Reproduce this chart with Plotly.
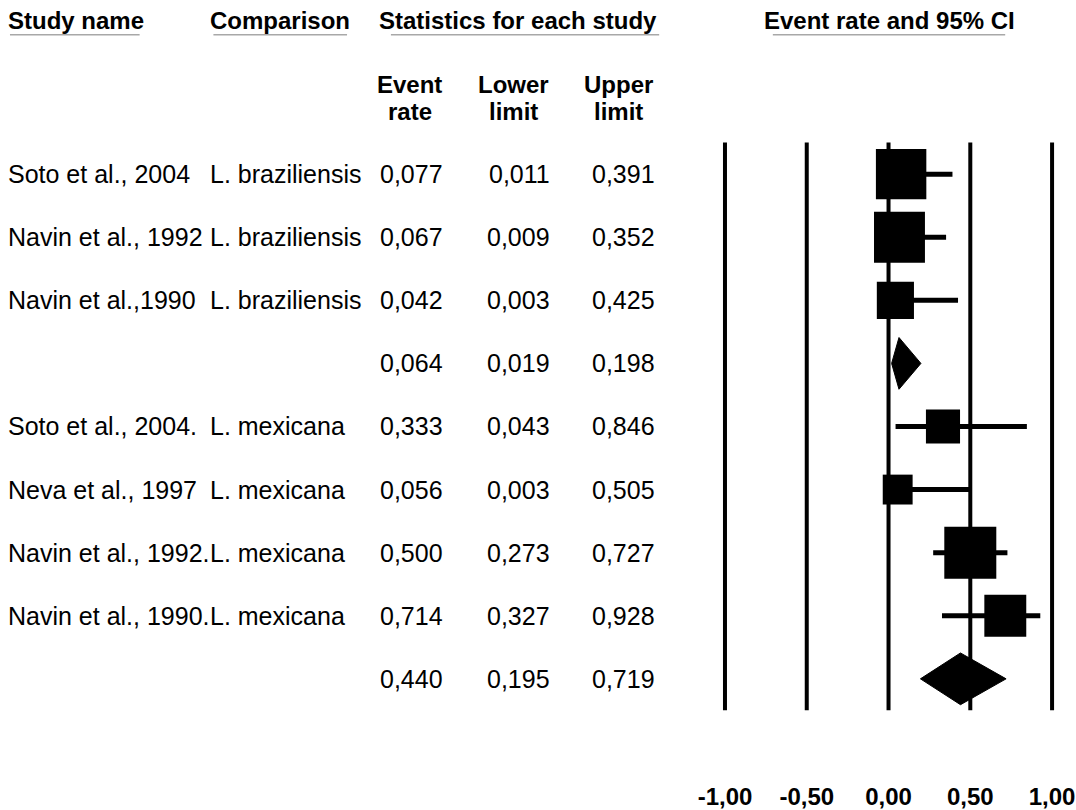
import math
import plotly.graph_objects as go

# ---------------- data ----------------
study_names = ["Soto et al., 2004", "Navin et al., 1992", "Navin et al.,1990", "",
               "Soto et al., 2004.", "Neva et al., 1997", "Navin et al., 1992.",
               "Navin et al., 1990.", ""]
comparisons = ["L. braziliensis", "L. braziliensis", "L. braziliensis", "",
               "L. mexicana", "L. mexicana", "L. mexicana", "L. mexicana", ""]
event_rate = [0.077, 0.067, 0.042, 0.064, 0.333, 0.056, 0.500, 0.714, 0.440]
lower_limit = [0.011, 0.009, 0.003, 0.019, 0.043, 0.003, 0.273, 0.327, 0.195]
upper_limit = [0.391, 0.352, 0.425, 0.198, 0.846, 0.505, 0.727, 0.928, 0.719]
is_summary = [False, False, False, True, False, False, False, False, True]
relative_weight = [0.94, 0.96, 0.51, None, 0.43, 0.33, 1.00, 0.65, None]
tick_values = [-1.0, -0.5, 0.0, 0.5, 1.0]
tick_labels = ["-1,00", "-0,50", "0,00", "0,50", "1,00"]
col_headers = ["Study name", "Comparison", "Statistics for each study", "Event rate and 95% CI"]
stat_headers = [("Event", "rate"), ("Lower", "limit"), ("Upper", "limit")]

# ---------------- layout constants ----------------
W, H = 1076, 810
FONT = "Liberation Sans, Arial, Helvetica, sans-serif"
ROW0_PX, ROW_STEP = 175.0, 63.4
PLOT_LEFT_PX, ZERO_PX, PX_PER_UNIT = 700.0, 888.0, 164.0
MAX_SIDE = 52.0
DIAMOND_HALF = 26.0 / ROW_STEP
LEFT_PAD = 5  # annotation inner padding compensation

n = len(event_rate)
rows = list(range(n))
y_top = -ROW0_PX / ROW_STEP
y_bottom = y_top + H / ROW_STEP
x_lo = (PLOT_LEFT_PX - ZERO_PX) / PX_PER_UNIT
x_hi = (W - ZERO_PX) / PX_PER_UNIT


def px(x):
    return x / W


def py(y):
    return 1 - y / H


def fmt(v):
    return f"{v:.3f}".replace(".", ",")


fig = go.Figure()

# whiskers for individual studies
wx, wy = [], []
for i in rows:
    if not is_summary[i]:
        wx += [lower_limit[i], upper_limit[i], None]
        wy += [i, i, None]
fig.add_trace(go.Scatter(x=wx, y=wy, mode="lines",
                         line=dict(color="black", width=5),
                         hoverinfo="skip", showlegend=False))

# squares
sx = [event_rate[i] for i in rows if not is_summary[i]]
sy = [i for i in rows if not is_summary[i]]
ss = [MAX_SIDE * math.sqrt(relative_weight[i]) for i in rows if not is_summary[i]]
fig.add_trace(go.Scatter(x=sx, y=sy, mode="markers",
                         marker=dict(symbol="square", size=ss, color="black",
                                     opacity=1, line=dict(width=0)),
                         opacity=1, showlegend=False))

# diamonds for summary rows
for i in rows:
    if is_summary[i]:
        fig.add_trace(go.Scatter(
            x=[lower_limit[i], event_rate[i], upper_limit[i], event_rate[i], lower_limit[i]],
            y=[i, i - DIAMOND_HALF, i, i + DIAMOND_HALF, i],
            mode="lines", fill="toself", fillcolor="black",
            line=dict(color="black", width=1), showlegend=False))

shapes = []
# vertical reference lines at tick values
for t in tick_values:
    shapes.append(dict(type="line", xref="x", yref="y", x0=t, x1=t,
                       y0=-0.5, y1=n - 0.5, layer="below",
                       line=dict(color="black", width=4)))

annotations = []


def add_text(text, x, y, xanchor, yref="paper", size=25, bold=False):
    if xanchor == "left":
        x -= LEFT_PAD
    annotations.append(dict(text=f"<b>{text}</b>" if bold else text,
                            x=px(x), y=y if yref == "y" else py(y),
                            xref="paper", yref=yref, xanchor=xanchor,
                            yanchor="middle", showarrow=False,
                            font=dict(family=FONT, size=size, color="black")))


# column headers with underlines
header_specs = [(8, "left", 7, 137), (211, "left", 211, 345),
                (380, "left", 389, 658), (889, "center", 772, 1005)]
for (hx, anchor, ux0, ux1), label in zip(header_specs, col_headers):
    add_text(label, hx, 21, anchor, size=24, bold=True)
    shapes.append(dict(type="line", xref="paper", yref="paper",
                       x0=px(ux0), x1=px(ux1), y0=py(35), y1=py(35),
                       line=dict(color="#a8a8a8", width=1.5)))

for cx, (l1, l2) in zip([408, 512, 617], stat_headers):
    add_text(l1, cx, 85, "center", size=24, bold=True)
    add_text(l2, cx, 112, "center", size=24, bold=True)

# table body
for i in rows:
    if study_names[i]:
        add_text(study_names[i], 8, i, "left", yref="y")
    if comparisons[i]:
        add_text(comparisons[i], 211, i, "left", yref="y")
    add_text(fmt(event_rate[i]), 443, i, "right", yref="y")
    add_text(fmt(lower_limit[i]), 551, i, "right", yref="y")
    add_text(fmt(upper_limit[i]), 656, i, "right", yref="y")

fig.update_layout(
    width=W, height=H, autosize=False,
    margin=dict(l=0, r=0, t=0, b=0),
    paper_bgcolor="white", plot_bgcolor="white",
    showlegend=False,
    xaxis=dict(domain=[px(PLOT_LEFT_PX), 1], range=[x_lo, x_hi],
               anchor="free", position=py(784),
               tickvals=tick_values, ticktext=[f"<b>{t}</b>" for t in tick_labels],
               tickfont=dict(family=FONT, size=24, color="black"),
               showgrid=False, zeroline=False, showline=False, ticks=""),
    yaxis=dict(domain=[0, 1], range=[y_bottom, y_top], visible=False,
               showgrid=False, zeroline=False),
    shapes=shapes, annotations=annotations,
)

fig.write_html("out.html", config={"displayModeBar": False},
               post_script="document.body.style.margin='0';")
